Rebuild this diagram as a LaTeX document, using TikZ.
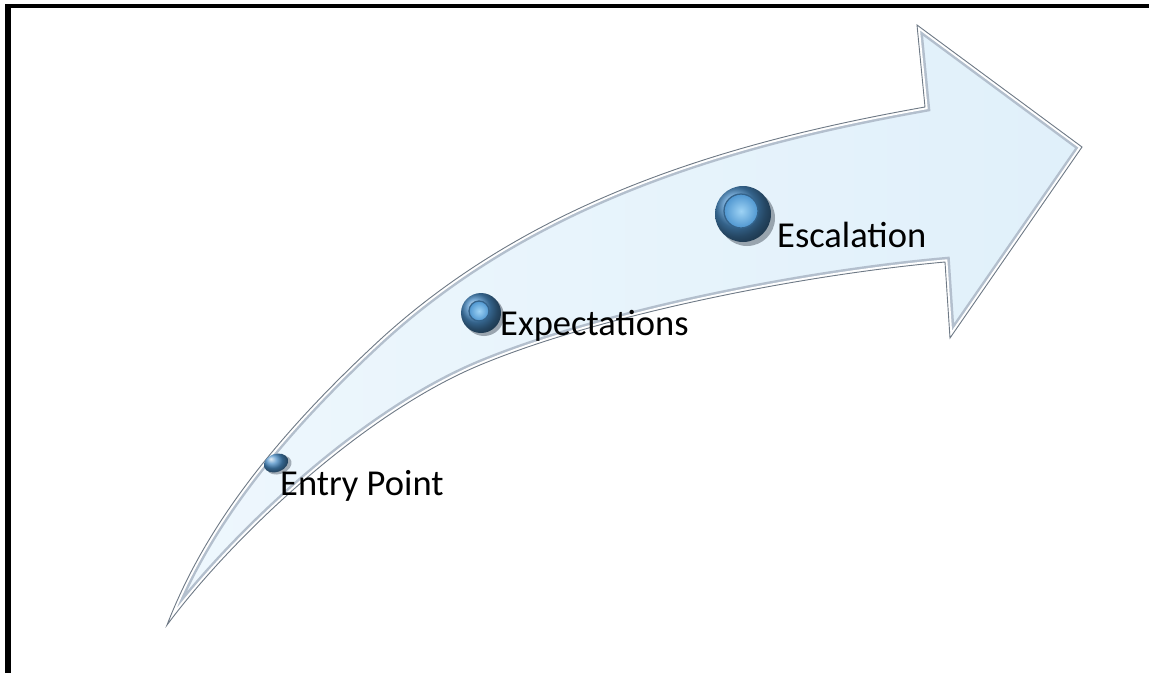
\documentclass[tikz,border=0pt]{standalone}
\usepackage{fontspec}
\setmainfont{Carlito}
\usetikzlibrary{shapes.geometric}
\definecolor{arrowfillA}{HTML}{EEF7FD}
\definecolor{arrowfillB}{HTML}{E0F0FA}
\definecolor{bevelgray}{HTML}{B3BFCD}
\definecolor{edgegray}{HTML}{6F7A86}
\definecolor{ringblue}{HTML}{4A8DC6}
\definecolor{corelight}{HTML}{9ED3F5}
\definecolor{coredark}{HTML}{4F96D0}
\definecolor{ringshadow}{HTML}{5A6470}
\tikzset{
  framestroke/.style={black},
  ringshade/.style={circle, inner sep=0pt, fill=ringshadow, opacity=0.55},
  ringouter/.style={circle, inner sep=0pt, shading=ball, ball color=ringblue},
  ringinner/.style={circle, inner sep=0pt, draw=ringblue!70!black, line width=1.3pt,
                    inner color=corelight, outer color=coredark},
  label/.style={anchor=base west, inner sep=0pt, text=black,
                font=\fontsize{36.5}{42}\selectfont}
}
\def\arrowpath{(167,625) .. controls (200,540) and (260,450) .. (383,337)
  .. controls (540,195) and (740,140) .. (925,107) -- (917,25) -- (1082,147)
  -- (950,338) -- (945,262) .. controls (800,275) and (600,315) .. (480,365)
  .. controls (360,415) and (230,540) .. (167,625) -- cycle}
\begin{document}
\begin{tikzpicture}[x=1pt,y=-1pt]
  \useasboundingbox (0,0) rectangle (1149,673);
  % frame lines on the left and top
  \fill[framestroke] (5,4) rectangle (10.5,673);
  \fill[framestroke] (5,4) rectangle (1149,7.5);
  % curved arrow body
  \shade[left color=arrowfillA, right color=arrowfillB] \arrowpath;
  \begin{scope}
    \clip \arrowpath;
    \draw[bevelgray, line width=10pt, line join=miter] \arrowpath;
    \draw[white, line width=5pt, line join=miter] \arrowpath;
  \end{scope}
  \draw[edgegray, line width=0.9pt, line join=miter] \arrowpath;
  % milestone markers
  \node[ellipse, inner sep=0pt, minimum width=26pt, minimum height=18pt, rotate=20,
        fill=ringshadow, opacity=0.5] (r1s) at (279,465) {};
  \node[ellipse, inner sep=0pt, minimum width=25pt, minimum height=18pt, rotate=20,
        shading=ball, ball color=ringblue] (r1) at (276,463) {};
  \node[ringshade, minimum size=40pt] (r2s) at (484,316) {};
  \node[ringouter, minimum size=40pt] (r2) at (481,313) {};
  \node[ringinner, minimum size=20pt] (r2c) at (479,311) {};
  \node[ringshade, minimum size=56pt] (r3s) at (747,218) {};
  \node[ringouter, minimum size=56pt] (r3) at (743,214) {};
  \node[ringinner, minimum size=34pt] (r3c) at (741,211) {};
  % labels
  \node[label] (t1) at (280,495) {Entry Point};
  \node[label] (t2) at (500,335) {Expectations};
  \node[label] (t3) at (777,247) {Escalation};
\end{tikzpicture}
\end{document}
